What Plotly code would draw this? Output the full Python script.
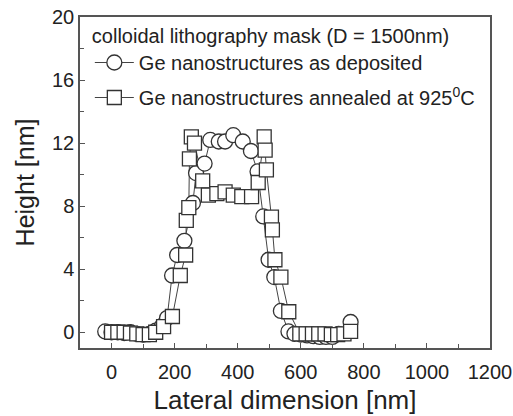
import plotly.graph_objects as go

# As deposited (circles)
dep_x = [-20, 0, 20, 40, 60, 80, 100, 120, 140, 160, 176, 192, 208, 231, 258, 268, 295,
         313, 340, 360, 386, 416, 442, 463, 481, 498, 516, 537, 561, 580, 600, 620, 640,
         660, 680, 700, 720, 758]
dep_y = [0.05, 0.0, 0.0, -0.05, 0.0, -0.1, -0.15, -0.1, 0.1, 0.4, 0.9, 3.6, 4.9, 5.8, 8.2, 10.1, 10.7,
         12.2, 12.1, 12.1, 12.5, 12.1, 11.5, 10.2, 7.35, 4.6, 3.5, 1.35, 0.05, -0.1, -0.15, -0.2, -0.25,
         -0.3, -0.3, -0.3, -0.1, 0.65]

# Annealed at 925 C (squares)
ann_x = [0, 20, 40, 60, 80, 100, 120, 140, 165, 193, 218, 235, 237, 245, 247, 253, 263, 289,
         307, 334, 360, 386, 413, 444, 465, 484, 487, 491, 507, 510, 518, 537, 562, 597, 617,
         637, 657, 677, 697, 717, 737, 758]
ann_y = [0.0, 0.0, 0.0, -0.05, -0.1, -0.15, -0.15, 0.0, 0.35, 1.0, 3.6, 4.9, 7.1, 7.9, 11.0, 12.4, 12.0, 9.6,
         8.7, 8.8, 8.9, 8.7, 8.6, 8.6, 9.5, 12.4, 11.55, 10.3, 7.3, 6.5, 4.6, 3.5, 1.3, -0.1, -0.1,
         -0.1, -0.1, -0.1, -0.15, -0.15, -0.1, 0.05]

legend_title = "colloidal lithography mask (D = 1500nm)"
name_dep = "Ge nanostructures as deposited"
name_ann = "Ge nanostructures annealed at 925<sup>0</sup>C"

x_ticks = [0, 200, 400, 600, 800, 1000, 1200]
y_ticks = [0, 4, 8, 12, 16, 20]

LINE = "#444444"
EDGE = "#333333"
FONT = "Liberation Sans, Arial, sans-serif"

fig = go.Figure()
# connecting lines underneath all markers
fig.add_trace(go.Scatter(x=dep_x, y=dep_y, mode="lines", line=dict(color=LINE, width=1),
                         showlegend=False, hoverinfo="skip"))
fig.add_trace(go.Scatter(x=ann_x, y=ann_y, mode="lines", line=dict(color=LINE, width=1),
                         showlegend=False, hoverinfo="skip"))
# markers
fig.add_trace(go.Scatter(x=dep_x, y=dep_y, mode="markers", showlegend=False,
                         marker=dict(symbol="circle", size=15, color="white",
                                     line=dict(color=EDGE, width=1.3))))
fig.add_trace(go.Scatter(x=ann_x, y=ann_y, mode="markers", showlegend=False,
                         marker=dict(symbol="square", size=14, color="white",
                                     line=dict(color=EDGE, width=1.3))))
# legend entries
fig.add_trace(go.Scatter(x=[None], y=[None], mode="lines+markers", name=name_dep,
                         legendgroup="dep",
                         line=dict(color=LINE, width=1),
                         marker=dict(symbol="circle", size=15, color="white",
                                     line=dict(color=EDGE, width=1.3))))
fig.add_trace(go.Scatter(x=[None], y=[None], mode="lines+markers", name=name_ann,
                         legendgroup="ann",
                         line=dict(color=LINE, width=1),
                         marker=dict(symbol="square", size=14, color="white",
                                     line=dict(color=EDGE, width=1.3))))

fig.update_layout(
    width=513, height=416,
    margin=dict(l=80, r=23, t=17, b=68),
    paper_bgcolor="white", plot_bgcolor="white",
    font=dict(family=FONT, size=20, color="#222222"),
    legend=dict(x=0.024, y=1.0, xanchor="left", yanchor="top",
                bgcolor="rgba(0,0,0,0)", borderwidth=0,
                title=dict(text=legend_title, font=dict(size=20)),
                font=dict(size=20), itemwidth=39,
                traceorder="grouped", tracegroupgap=6),
)
fig.update_xaxes(
    range=[-100, 1200], tickvals=x_ticks, ticktext=[str(v) for v in x_ticks],
    ticks="inside", ticklen=5, tickwidth=1.3, tickcolor="#555555",
    minor=dict(dtick=100, tick0=0, ticks="inside", ticklen=4, tickwidth=1.3, tickcolor="#555555"),
    showline=True, linecolor="#555555", linewidth=1.5, mirror=True,
    showgrid=False, zeroline=False, ticklabelstandoff=5, automargin=False,
    title=dict(text="Lateral dimension [nm]", font=dict(size=26), standoff=9),
    tickfont=dict(size=20),
)
fig.update_yaxes(
    range=[-1, 20], tickvals=y_ticks, ticktext=[str(v) for v in y_ticks],
    ticks="inside", ticklen=5, tickwidth=1.3, tickcolor="#555555",
    minor=dict(dtick=2, tick0=0, ticks="inside", ticklen=4, tickwidth=1.3, tickcolor="#555555"),
    showline=True, linecolor="#555555", linewidth=1.5, mirror=True,
    showgrid=False, zeroline=False, automargin=False,
    title=dict(text="Height [nm]", font=dict(size=25), standoff=10),
    tickfont=dict(size=20),
)

fig.write_html("out.html")
